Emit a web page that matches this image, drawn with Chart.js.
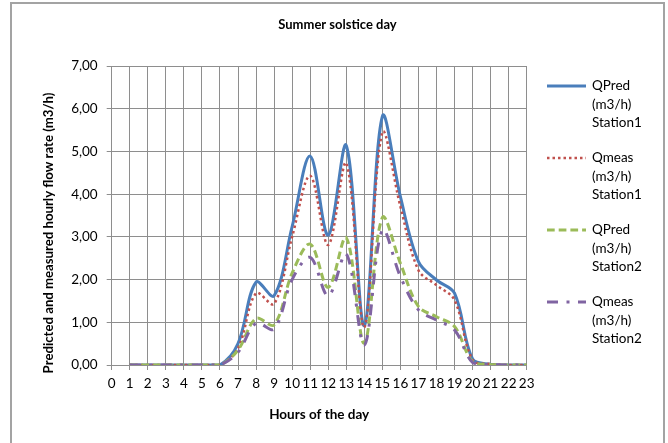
<!DOCTYPE html>
<html>
<head>
<meta charset="utf-8">
<script src="https://cdn.jsdelivr.net/npm/chart.js@4.4.1/dist/chart.umd.min.js"></script>
<style>
html, body { margin:0; padding:0; background:#fff; overflow:hidden; }
#box { position:absolute; left:10px; top:2px; width:651px; height:445px; border:2px solid #a3a3a3; }
canvas { display:block; }
</style>
</head>
<body>
<div id="box"><canvas id="chart" width="651" height="445"></canvas></div>
<script>
// Hours of the day (category axis)
const hours = ["0","1","2","3","4","5","6","7","8","9","10","11","12","13","14","15","16","17","18","19","20","21","22","23"];

// Flow rates (m3/h); hour 0 has no value
const qPred1 = [null,0,0,0,0,0,0,0.50,1.94,1.62,3.24,4.89,3.04,5.14,0.92,5.82,3.94,2.42,1.99,1.68,0.14,0.02,0,0];
const qMeas1 = [null,0,0,0,0,0,0,0.39,1.68,1.43,3.00,4.43,2.81,4.72,0.88,5.44,3.71,2.22,1.87,1.52,0.12,0.02,0,0];
const qPred2 = [null,0,0,0,0,0,0,0.35,1.09,0.94,2.15,2.83,1.82,2.98,0.51,3.45,2.38,1.37,1.13,0.90,0.08,0.01,0,0];
const qMeas2 = [null,0,0,0,0,0,0,0.30,0.98,0.84,2.00,2.52,1.62,2.60,0.47,3.16,2.07,1.29,1.05,0.82,0.06,0.01,0,0];

const seriesNames = ["QPred (m3/h) Station1","Qmeas (m3/h) Station1","QPred (m3/h) Station2","Qmeas (m3/h) Station2"];

Chart.defaults.font.family = "Lato, 'Open Sans', sans-serif";
Chart.defaults.color = "#000";

const GRID = "#8e8e8e";
const FONT = "Lato, 'Open Sans', sans-serif";

// y axis title, drawn centred a bit lower than the plot like Excel does
const yTitle = {
  id: "yTitle",
  afterDraw(chart) {
    const ctx = chart.ctx;
    ctx.save();
    ctx.translate(37, 229);
    ctx.rotate(-Math.PI / 2);
    ctx.font = "bold 13.2px " + FONT;
    ctx.fillStyle = "#000";
    ctx.textAlign = "center";
    ctx.textBaseline = "middle";
    ctx.fillText("Predicted and measured hourly flow rate (m3/h)", 0, 0);
    ctx.restore();
  }
};

// legend on the right, one word per line
const sideLegend = {
  id: "sideLegend",
  afterDraw(chart) {
    const ctx = chart.ctx;
    chart.data.datasets.forEach((ds, i) => {
      const y = 82 + i * 72;
      ctx.save();
      ctx.strokeStyle = ds.borderColor;
      ctx.lineWidth = ds.borderWidth;
      ctx.setLineDash(ds.borderDash || []);
      ctx.beginPath();
      ctx.moveTo(535, y);
      ctx.lineTo(574, y);
      ctx.stroke();
      ctx.setLineDash([]);
      ctx.font = "13.5px " + FONT;
      ctx.fillStyle = "#000";
      ctx.textBaseline = "middle";
      ds.label.split(" ").forEach((w, k) => ctx.fillText(w, 580, y + k * 18.5));
      ctx.restore();
    });
  }
};

new Chart(document.getElementById("chart"), {
  type: "line",
  data: {
    labels: hours,
    datasets: [
      { label: seriesNames[0], data: qPred1, borderColor: "#4a7ebb", borderWidth: 3, order: 4 },
      { label: seriesNames[1], data: qMeas1, borderColor: "#c0504d", borderWidth: 2.5, borderDash: [2.5, 3], order: 3 },
      { label: seriesNames[2], data: qPred2, borderColor: "#9bbb59", borderWidth: 3, borderDash: [7.7, 4], order: 2 },
      { label: seriesNames[3], data: qMeas2, borderColor: "#8064a2", borderWidth: 3, borderDash: [11, 8.5, 3, 8.5], order: 1 }
    ]
  },
  options: {
    responsive: false,
    animation: false,
    layout: { padding: 0 },
    elements: {
      point: { radius: 0, hoverRadius: 0 },
      line: { tension: 0.35, fill: false }
    },
    plugins: {
      legend: { display: false },
      tooltip: { enabled: false },
      title: {
        display: true,
        text: "Summer solstice day",
        font: { size: 13, weight: "bold" },
        color: "#000",
        padding: { top: 13.5, bottom: 32.9 }
      }
    },
    scales: {
      x: {
        type: "category",
        offset: false,
        grid: { color: GRID, offset: false, tickLength: 5 },
        border: { color: GRID },
        ticks: { autoSkip: false, maxRotation: 0, padding: 6, font: { size: 13.5 }, color: "#000" },
        title: {
          display: true,
          text: "Hours of the day",
          font: { size: 13.5, weight: "bold" },
          color: "#000",
          padding: { top: 0, bottom: 26 }
        },
        afterFit(s) { s.height = 84; }
      },
      y: {
        min: 0,
        max: 7,
        grid: { color: GRID, tickLength: 5 },
        border: { color: GRID },
        ticks: {
          stepSize: 1,
          padding: 9,
          font: { size: 13.5 },
          color: "#000",
          callback: v => v.toFixed(2).replace(".", ",")
        },
        afterFit(s) { s.width = 99.7; }
      },
      // empty axis that only keeps room for the legend
      side: {
        type: "linear",
        position: "right",
        display: true,
        grid: { display: false },
        border: { display: false },
        ticks: { display: false },
        afterFit(s) { s.width = 136.3; }
      }
    }
  },
  plugins: [yTitle, sideLegend]
});
</script>
</body>
</html>
